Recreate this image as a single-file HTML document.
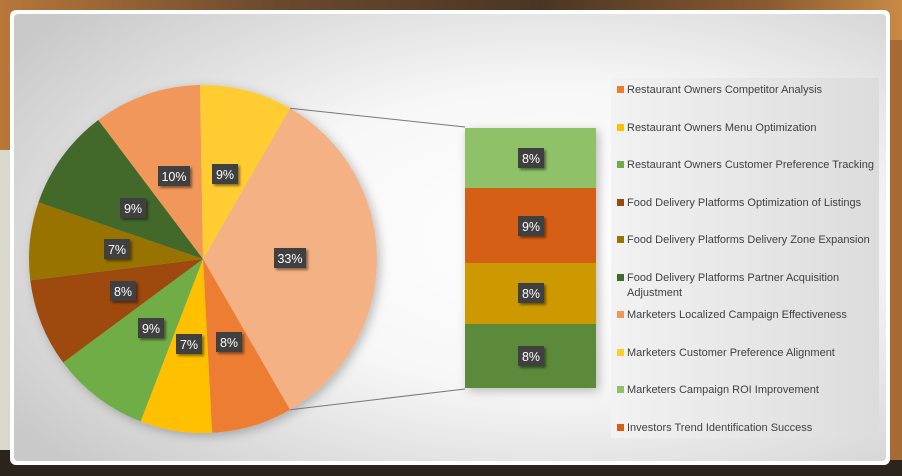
<!DOCTYPE html>
<html><head><meta charset="utf-8"><style>
html,body{margin:0;padding:0;width:902px;height:476px;overflow:hidden;font-family:"Liberation Sans",sans-serif;}
</style></head><body>
<svg width="902" height="476" viewBox="0 0 902 476" xmlns="http://www.w3.org/2000/svg">
<defs>
<linearGradient id="bgh" x1="0" y1="0" x2="1" y2="0">
<stop offset="0" stop-color="#b8773a"/><stop offset="0.3" stop-color="#6b4a2e"/><stop offset="0.6" stop-color="#4a3524"/><stop offset="0.85" stop-color="#8a5a30"/><stop offset="1" stop-color="#c98a45"/>
</linearGradient>
<radialGradient id="card" cx="0.62" cy="0.5" r="0.75">
<stop offset="0" stop-color="#ffffff"/><stop offset="0.45" stop-color="#f7f7f7"/><stop offset="1" stop-color="#c9c9c9"/>
</radialGradient>
<linearGradient id="leg" x1="0" y1="0" x2="1" y2="0">
<stop offset="0" stop-color="#f2f2f2"/><stop offset="1" stop-color="#dcdcdc"/>
</linearGradient>
<filter id="sh" x="-20%" y="-20%" width="140%" height="140%"><feDropShadow dx="2" dy="2" stdDeviation="1.2" flood-color="#000" flood-opacity="0.45"/></filter>
<filter id="psh" x="-20%" y="-20%" width="140%" height="140%"><feDropShadow dx="3" dy="3" stdDeviation="5" flood-color="#000" flood-opacity="0.25"/></filter>
</defs>
<rect width="902" height="476" fill="url(#bgh)"/>
<rect x="0" y="440" width="902" height="36" fill="#2a241d"/>
<rect x="0" y="150" width="12" height="300" fill="#d8d8cc"/>
<rect x="889" y="40" width="13" height="420" fill="#a86a35"/>
<rect x="10" y="10" width="880" height="455" rx="6" fill="#ffffff"/>
<rect x="14" y="14" width="872" height="447" rx="4" fill="url(#card)"/>
<g filter="url(#psh)">
<path d="M203,259 L290,108.3 A174,174 0 0 1 290,409.7 Z" fill="#F4B183"/>
<path d="M203,259 L290,409.7 A174,174 0 0 1 212.1,432.8 Z" fill="#ED7D31"/>
<path d="M203,259 L212.1,432.8 A174,174 0 0 1 140.6,421.4 Z" fill="#FFC000"/>
<path d="M203,259 L140.6,421.4 A174,174 0 0 1 63.1,362.5 Z" fill="#70AD47"/>
<path d="M203,259 L63.1,362.5 A174,174 0 0 1 30.3,280.2 Z" fill="#9E480E"/>
<path d="M203,259 L30.3,280.2 A174,174 0 0 1 38.5,202.3 Z" fill="#997300"/>
<path d="M203,259 L38.5,202.3 A174,174 0 0 1 98.3,120 Z" fill="#43682B"/>
<path d="M203,259 L98.3,120 A174,174 0 0 1 200,85 Z" fill="#F1975A"/>
<path d="M203,259 L200,85 A174,174 0 0 1 290,108.3 Z" fill="#FFCD33"/>
</g>
<line x1="290" y1="108.3" x2="465" y2="127" stroke="#777" stroke-width="1"/>
<line x1="290" y1="409.7" x2="465" y2="389" stroke="#777" stroke-width="1"/>
<g filter="url(#psh)">
<rect x="465" y="128" width="131" height="60" fill="#8FC267"/>
<rect x="465" y="188" width="131" height="75" fill="#D65F14"/>
<rect x="465" y="263" width="131" height="61" fill="#CC9A00"/>
<rect x="465" y="324" width="131" height="64" fill="#5B8A3B"/>
</g>
<g font-size="12.5" fill="#fff" text-anchor="middle">
<g filter="url(#sh)" fill="#404040">
<rect x="158" y="166" width="32" height="20"/>
<rect x="212" y="164" width="26" height="20"/>
<rect x="120" y="198" width="26" height="20"/>
<rect x="104" y="239" width="26" height="20"/>
<rect x="110" y="281" width="26" height="20"/>
<rect x="138" y="318" width="26" height="20"/>
<rect x="176" y="334" width="26" height="20"/>
<rect x="216" y="332" width="26" height="20"/>
<rect x="274" y="248" width="32" height="20"/>
<rect x="518" y="148" width="26" height="20"/>
<rect x="518" y="216" width="26" height="20"/>
<rect x="518" y="283" width="26" height="20"/>
<rect x="518" y="346" width="26" height="20"/>
</g>
<text x="174" y="181">10%</text>
<text x="225" y="179">9%</text>
<text x="133" y="213">9%</text>
<text x="117" y="254">7%</text>
<text x="123" y="296">8%</text>
<text x="151" y="333">9%</text>
<text x="189" y="349">7%</text>
<text x="229" y="347">8%</text>
<text x="290" y="263">33%</text>
<text x="531" y="163">8%</text>
<text x="531" y="231">9%</text>
<text x="531" y="298">8%</text>
<text x="531" y="361">8%</text>
</g>
<rect x="611" y="78" width="268" height="360" fill="url(#leg)"/>
<g font-size="11" fill="#404040">
<rect x="617" y="86" width="7" height="7" fill="#ED7D31"/><text x="627" y="93">Restaurant Owners Competitor Analysis</text>
<rect x="617" y="124" width="7" height="7" fill="#FFC000"/><text x="627" y="131">Restaurant Owners Menu Optimization</text>
<rect x="617" y="161" width="7" height="7" fill="#70AD47"/><text x="627" y="168">Restaurant Owners Customer Preference Tracking</text>
<rect x="617" y="199" width="7" height="7" fill="#9E480E"/><text x="627" y="206">Food Delivery Platforms Optimization of Listings</text>
<rect x="617" y="236" width="7" height="7" fill="#997300"/><text x="627" y="243">Food Delivery Platforms Delivery Zone Expansion</text>
<rect x="617" y="274" width="7" height="7" fill="#43682B"/><text x="627" y="281">Food Delivery Platforms Partner Acquisition</text><text x="627" y="296">Adjustment</text>
<rect x="617" y="311" width="7" height="7" fill="#F1975A"/><text x="627" y="318">Marketers Localized Campaign Effectiveness</text>
<rect x="617" y="349" width="7" height="7" fill="#FFCD33"/><text x="627" y="356">Marketers Customer Preference Alignment</text>
<rect x="617" y="386" width="7" height="7" fill="#8FC267"/><text x="627" y="393">Marketers Campaign ROI Improvement</text>
<rect x="617" y="424" width="7" height="7" fill="#D65F14"/><text x="627" y="431">Investors Trend Identification Success</text>
</g>
</svg>
</body></html>
